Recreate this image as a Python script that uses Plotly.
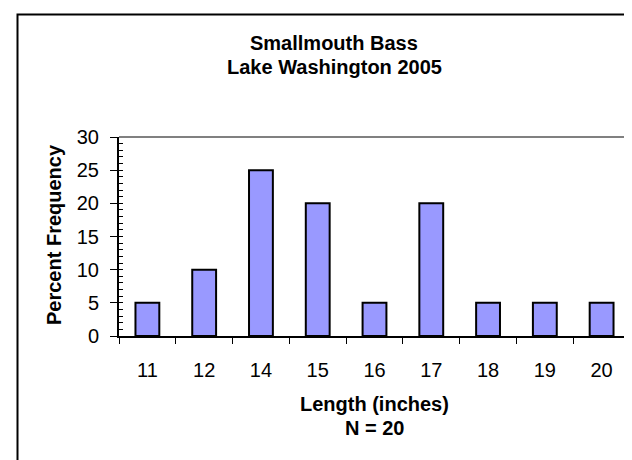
import plotly.graph_objects as go

lengths = ["11", "12", "14", "15", "16", "17", "18", "19", "20"]
percent_freq = [5, 10, 25, 20, 5, 20, 5, 5, 5]
title_lines = ["Smallmouth Bass", "Lake Washington 2005"]
x_title_lines = ["Length (inches)", "N = 20"]
y_title = "Percent Frequency"

W, H = 632, 460
L, R, T, B = 111, 10, 129, 132
FONT = "Liberation Sans, Arial, sans-serif"
pw, ph = W - L - R, H - T - B

fig = go.Figure()
fig.add_trace(go.Bar(
    x=lengths, y=percent_freq,
    marker=dict(color="#9999FF", line=dict(color="black", width=2)),
    width=0.42,
))

def px_x(p):
    return (p - L) / pw

def px_y(p):
    return (H - B - p) / ph

annotations = []
for txt, cy in zip(title_lines, [35, 59]):
    annotations.append(dict(text="<b>%s</b>" % txt, xref="paper", yref="paper",
                            x=px_x(326), y=px_y(cy), xanchor="center", yanchor="middle",
                            showarrow=False, font=dict(family=FONT, size=20, color="black")))
for txt, cy in zip(x_title_lines, [396, 420]):
    annotations.append(dict(text="<b>%s</b>" % txt, xref="paper", yref="paper",
                            x=px_x(366), y=px_y(cy), xanchor="center", yanchor="middle",
                            showarrow=False, font=dict(family=FONT, size=20, color="black")))
annotations.append(dict(text="<b>%s</b>" % y_title, xref="paper", yref="paper",
                        x=px_x(46), y=px_y(227), xanchor="center", yanchor="middle",
                        textangle=-90, showarrow=False,
                        font=dict(family=FONT, size=20, color="black")))

shapes = [
    dict(type="rect", xref="paper", yref="paper", x0=px_x(9.5), y0=px_y(700),
         x1=px_x(900), y1=px_y(6.5), line=dict(color="black", width=2), layer="below"),
    dict(type="line", xref="paper", yref="paper", x0=0, x1=1, y0=1, y1=1,
         line=dict(color="#808080", width=2)),
    dict(type="line", xref="paper", yref="paper", x0=1, x1=1, y0=0, y1=1,
         line=dict(color="#808080", width=2)),
]

fig.update_layout(
    width=W, height=H,
    margin=dict(l=L, r=R, t=T, b=B),
    paper_bgcolor="white", plot_bgcolor="white",
    showlegend=False,
    annotations=annotations,
    shapes=shapes,
    font=dict(family=FONT, size=20, color="black"),
)
fig.update_xaxes(
    type="category", range=[-0.5, 8.5],
    showline=True, linecolor="black", linewidth=2,
    ticks="outside", tickson="boundaries", ticklen=6, tickcolor="black", tickwidth=1,
    showgrid=False, ticklabelstandoff=15,
    tickfont=dict(family=FONT, size=20, color="black"),
)
fig.update_yaxes(
    range=[0, 30], dtick=5, tick0=0,
    showline=True, linecolor="black", linewidth=2,
    ticks="outside", ticklen=7, tickcolor="black", tickwidth=1,
    minor=dict(ticks="inside", dtick=1, ticklen=4, tickcolor="black", tickwidth=1, showgrid=False),
    showgrid=False, zeroline=False, ticklabelstandoff=7,
    tickfont=dict(family=FONT, size=20, color="black"),
)

fig.write_html("out.html")
